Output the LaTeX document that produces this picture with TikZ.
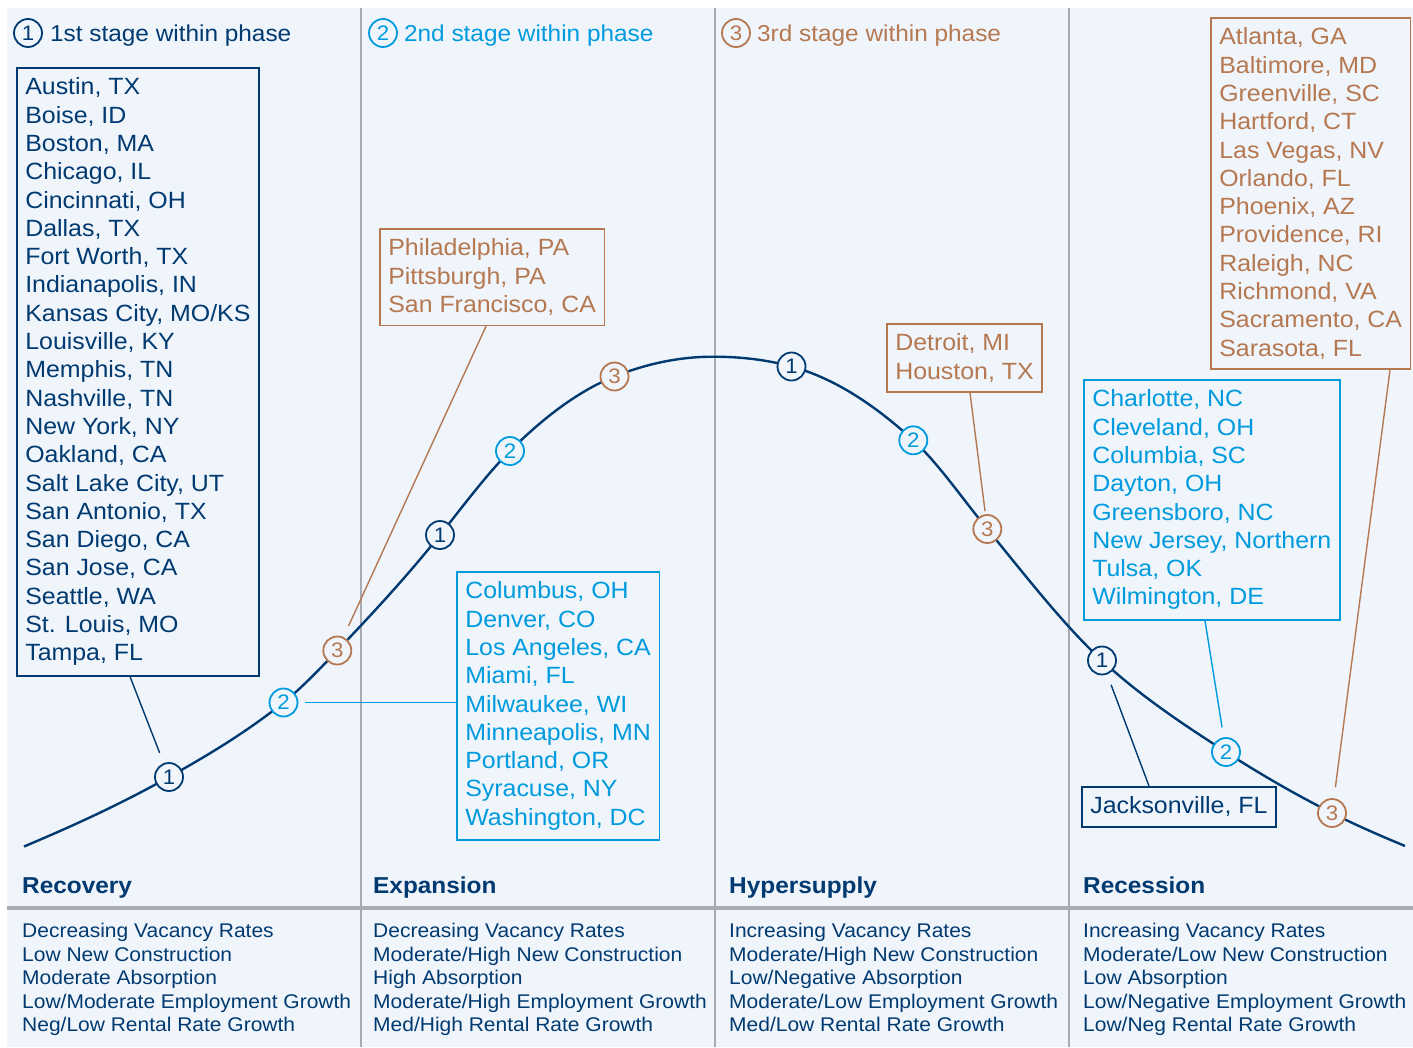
\documentclass[tikz,border=0pt]{standalone}
\usepackage{fontspec}
\setmainfont{Liberation Sans}[FakeStretch=1.06]
\usepackage{tikz}
\usetikzlibrary{positioning}
\definecolor{navy}{HTML}{003A70}
\definecolor{sky}{HTML}{009BDE}
\definecolor{copper}{HTML}{B57850}
\definecolor{paper}{HTML}{F0F5FC}
\definecolor{rule}{HTML}{A8ACB2}
\tikzset{
    city-box/.style = {draw=#1, text=#1, fill=paper, line width=1.6pt, rectangle, anchor=north west, align=left, inner xsep=8.5pt, inner ysep=10pt, font=\fontsize{23.5}{28.3}\selectfont},
    stage-mark/.style = {draw=#1, text=#1, fill=paper, circle, line width=1.8pt, minimum size=28pt, inner sep=0pt, font=\fontsize{21}{21}\selectfont},
    lead-line/.style = {draw=#1, line width=1.4pt},
    key-text/.style = {text=#1, inner sep=0pt, anchor=base west, font=\fontsize{23}{23}\selectfont},
    phase-title/.style = {anchor=base west, text=navy, inner sep=0pt, font=\bfseries\fontsize{23}{23}\selectfont},
    phase-notes/.style = {anchor=north west, text=navy, align=left, inner sep=0pt, font=\fontsize{19.8}{23.5}\selectfont},
}

\begin{document}
\begin{tikzpicture}[x=1pt, y=-1pt]
\useasboundingbox (0,0) rectangle (1413,1047);
\fill[white] (0,0) rectangle (1413,1047);
\fill[paper] (7,8) rectangle (1413,1047);
\foreach \x in {361,715,1069}
    \draw[rule, line width=2pt] (\x,8) -- (\x,1047);
\draw[rule, line width=3.5pt] (7,908) -- (1413,908);

\node[stage-mark=navy] (key1) at (28,33) {1};
\node[key-text=navy] (key1text) at ([xshift=7pt, yshift=-8pt]key1.east) {1st stage within phase};
\node[stage-mark=sky] (key2) at (383,33) {2};
\node[key-text=sky] (key2text) at ([xshift=6pt, yshift=-8pt]key2.east) {2nd stage within phase};
\node[stage-mark=copper] (key3) at (736,33) {3};
\node[key-text=copper] (key3text) at ([xshift=6pt, yshift=-8pt]key3.east) {3rd stage within phase};

\coordinate (start) at (24,846.5);
\coordinate (c-rec1) at (169,777);
\coordinate (c-rec2) at (283.5,702.5);
\coordinate (c-rec3) at (337.3,650.5);
\coordinate (c-exp1) at (440,535);
\coordinate (c-exp2) at (510,451);
\coordinate (c-exp3) at (614.5,376.5);
\coordinate (top) at (713,356.7);
\coordinate (c-hyp1) at (791.5,366.5);
\coordinate (c-hyp2) at (913.3,440.3);
\coordinate (c-hyp3) at (987.3,529);
\coordinate (c-ces1) at (1102,660.5);
\coordinate (c-ces2) at (1226,752);
\coordinate (c-ces3) at (1332,813);
\coordinate (finish) at (1405,846);
\draw[navy, line width=2.4pt] (start)
    .. controls (72.3,826.2) and (120.7,804.1) .. (c-rec1)
    .. controls (207.2,755.6) and (245.3,733.0) .. (c-rec2)
    .. controls (301.4,688.2) and (319.4,669.3) .. (c-rec3)
    .. controls (371.5,614.6) and (405.8,577.8) .. (c-exp1)
    .. controls (463.3,505.8) and (486.7,474.3) .. (c-exp2)
    .. controls (544.8,416.2) and (579.7,390.4) .. (c-exp3)
    .. controls (647.3,363.4) and (680.2,356.7) .. (top)
    .. controls (739.2,356.7) and (765.3,359.4) .. (c-hyp1)
    .. controls (832.1,377.5) and (872.7,403.0) .. (c-hyp2)
    .. controls (938.0,463.0) and (962.6,498.9) .. (c-hyp3)
    .. controls (1025.5,575.6) and (1063.8,625.3) .. (c-ces1)
    .. controls (1143.3,698.5) and (1184.7,725.1) .. (c-ces2)
    .. controls (1261.3,775.0) and (1296.7,795.0) .. (c-ces3)
    .. controls (1356.3,825.4) and (1380.7,835.8) .. (finish);

\node[city-box=navy] (recbox) at (16,67) {Austin, TX\\Boise, ID\\Boston, MA\\Chicago, IL\\Cincinnati, OH\\Dallas, TX\\Fort Worth, TX\\Indianapolis, IN\\Kansas City, MO/KS\\Louisville, KY\\Memphis, TN\\Nashville, TN\\New York, NY\\Oakland, CA\\Salt Lake City, UT\\San Antonio, TX\\San Diego, CA\\San Jose, CA\\Seattle, WA\\St. Louis, MO\\Tampa, FL};
\node[city-box=copper] (philbox) at (379,228) {Philadelphia, PA\\Pittsburgh, PA\\San Francisco, CA};
\node[city-box=sky] (colbox) at (456,571) {Columbus, OH\\Denver, CO\\Los Angeles, CA\\Miami, FL\\Milwaukee, WI\\Minneapolis, MN\\Portland, OR\\Syracuse, NY\\Washington, DC};
\node[city-box=copper] (detbox) at (886,323) {Detroit, MI\\Houston, TX};
\node[city-box=sky] (chabox) at (1083,379) {Charlotte, NC\\Cleveland, OH\\Columbia, SC\\Dayton, OH\\Greensboro, NC\\New Jersey, Northern\\Tulsa, OK\\Wilmington, DE};
\node[city-box=copper] (atlbox) at (1210,17) {Atlanta, GA\\Baltimore, MD\\Greenville, SC\\Hartford, CT\\Las Vegas, NV\\Orlando, FL\\Phoenix, AZ\\Providence, RI\\Raleigh, NC\\Richmond, VA\\Sacramento, CA\\Sarasota, FL};
\node[city-box=navy] (jaxbox) at (1081,786) {Jacksonville, FL};

\node[stage-mark=navy] (rec1) at (c-rec1) {1};
\node[stage-mark=sky] (rec2) at (c-rec2) {2};
\node[stage-mark=copper] (rec3) at (c-rec3) {3};
\node[stage-mark=navy] (exp1) at (c-exp1) {1};
\node[stage-mark=sky] (exp2) at (c-exp2) {2};
\node[stage-mark=copper] (exp3) at (c-exp3) {3};
\node[stage-mark=navy] (hyp1) at (c-hyp1) {1};
\node[stage-mark=sky] (hyp2) at (c-hyp2) {2};
\node[stage-mark=copper] (hyp3) at (c-hyp3) {3};
\node[stage-mark=navy] (ces1) at (c-ces1) {1};
\node[stage-mark=sky] (ces2) at (c-ces2) {2};
\node[stage-mark=copper] (ces3) at (c-ces3) {3};

\draw[lead-line=navy, shorten >=11pt] ([xshift=114pt]recbox.south west) -- (rec1);
\draw[lead-line=copper, shorten >=12pt] ([xshift=107pt]philbox.south west) -- (rec3);
\draw[lead-line=sky, shorten >=7pt] (rec2 -| colbox.west) -- (rec2);
\draw[lead-line=copper, shorten >=3pt] ([xshift=84pt]detbox.south west) -- (hyp3);
\draw[lead-line=sky, shorten >=10pt] ([xshift=122pt]chabox.south west) -- (ces2);
\draw[lead-line=copper, shorten >=11pt] ([xshift=180pt]atlbox.south west) -- (ces3);
\draw[lead-line=navy, shorten >=11pt] ([xshift=68pt]jaxbox.north west) -- (ces1);

\node[phase-title] (recname) at (22,893) {Recovery};
\node[phase-title] (expname) at (373,893) {Expansion};
\node[phase-title] (hypname) at (729,893) {Hypersupply};
\node[phase-title] (cesname) at (1083,893) {Recession};

\node[phase-notes] (recnotes) at (22,923) {Decreasing Vacancy Rates\\Low New Construction\\Moderate Absorption\\Low/Moderate Employment Growth\\Neg/Low Rental Rate Growth};
\node[phase-notes] (expnotes) at (373,923) {Decreasing Vacancy Rates\\Moderate/High New Construction\\High Absorption\\Moderate/High Employment Growth\\Med/High Rental Rate Growth};
\node[phase-notes] (hypnotes) at (729,923) {Increasing Vacancy Rates\\Moderate/High New Construction\\Low/Negative Absorption\\Moderate/Low Employment Growth\\Med/Low Rental Rate Growth};
\node[phase-notes] (cesnotes) at (1083,923) {Increasing Vacancy Rates\\Moderate/Low New Construction\\Low Absorption\\Low/Negative Employment Growth\\Low/Neg Rental Rate Growth};
\end{tikzpicture}
\end{document}
